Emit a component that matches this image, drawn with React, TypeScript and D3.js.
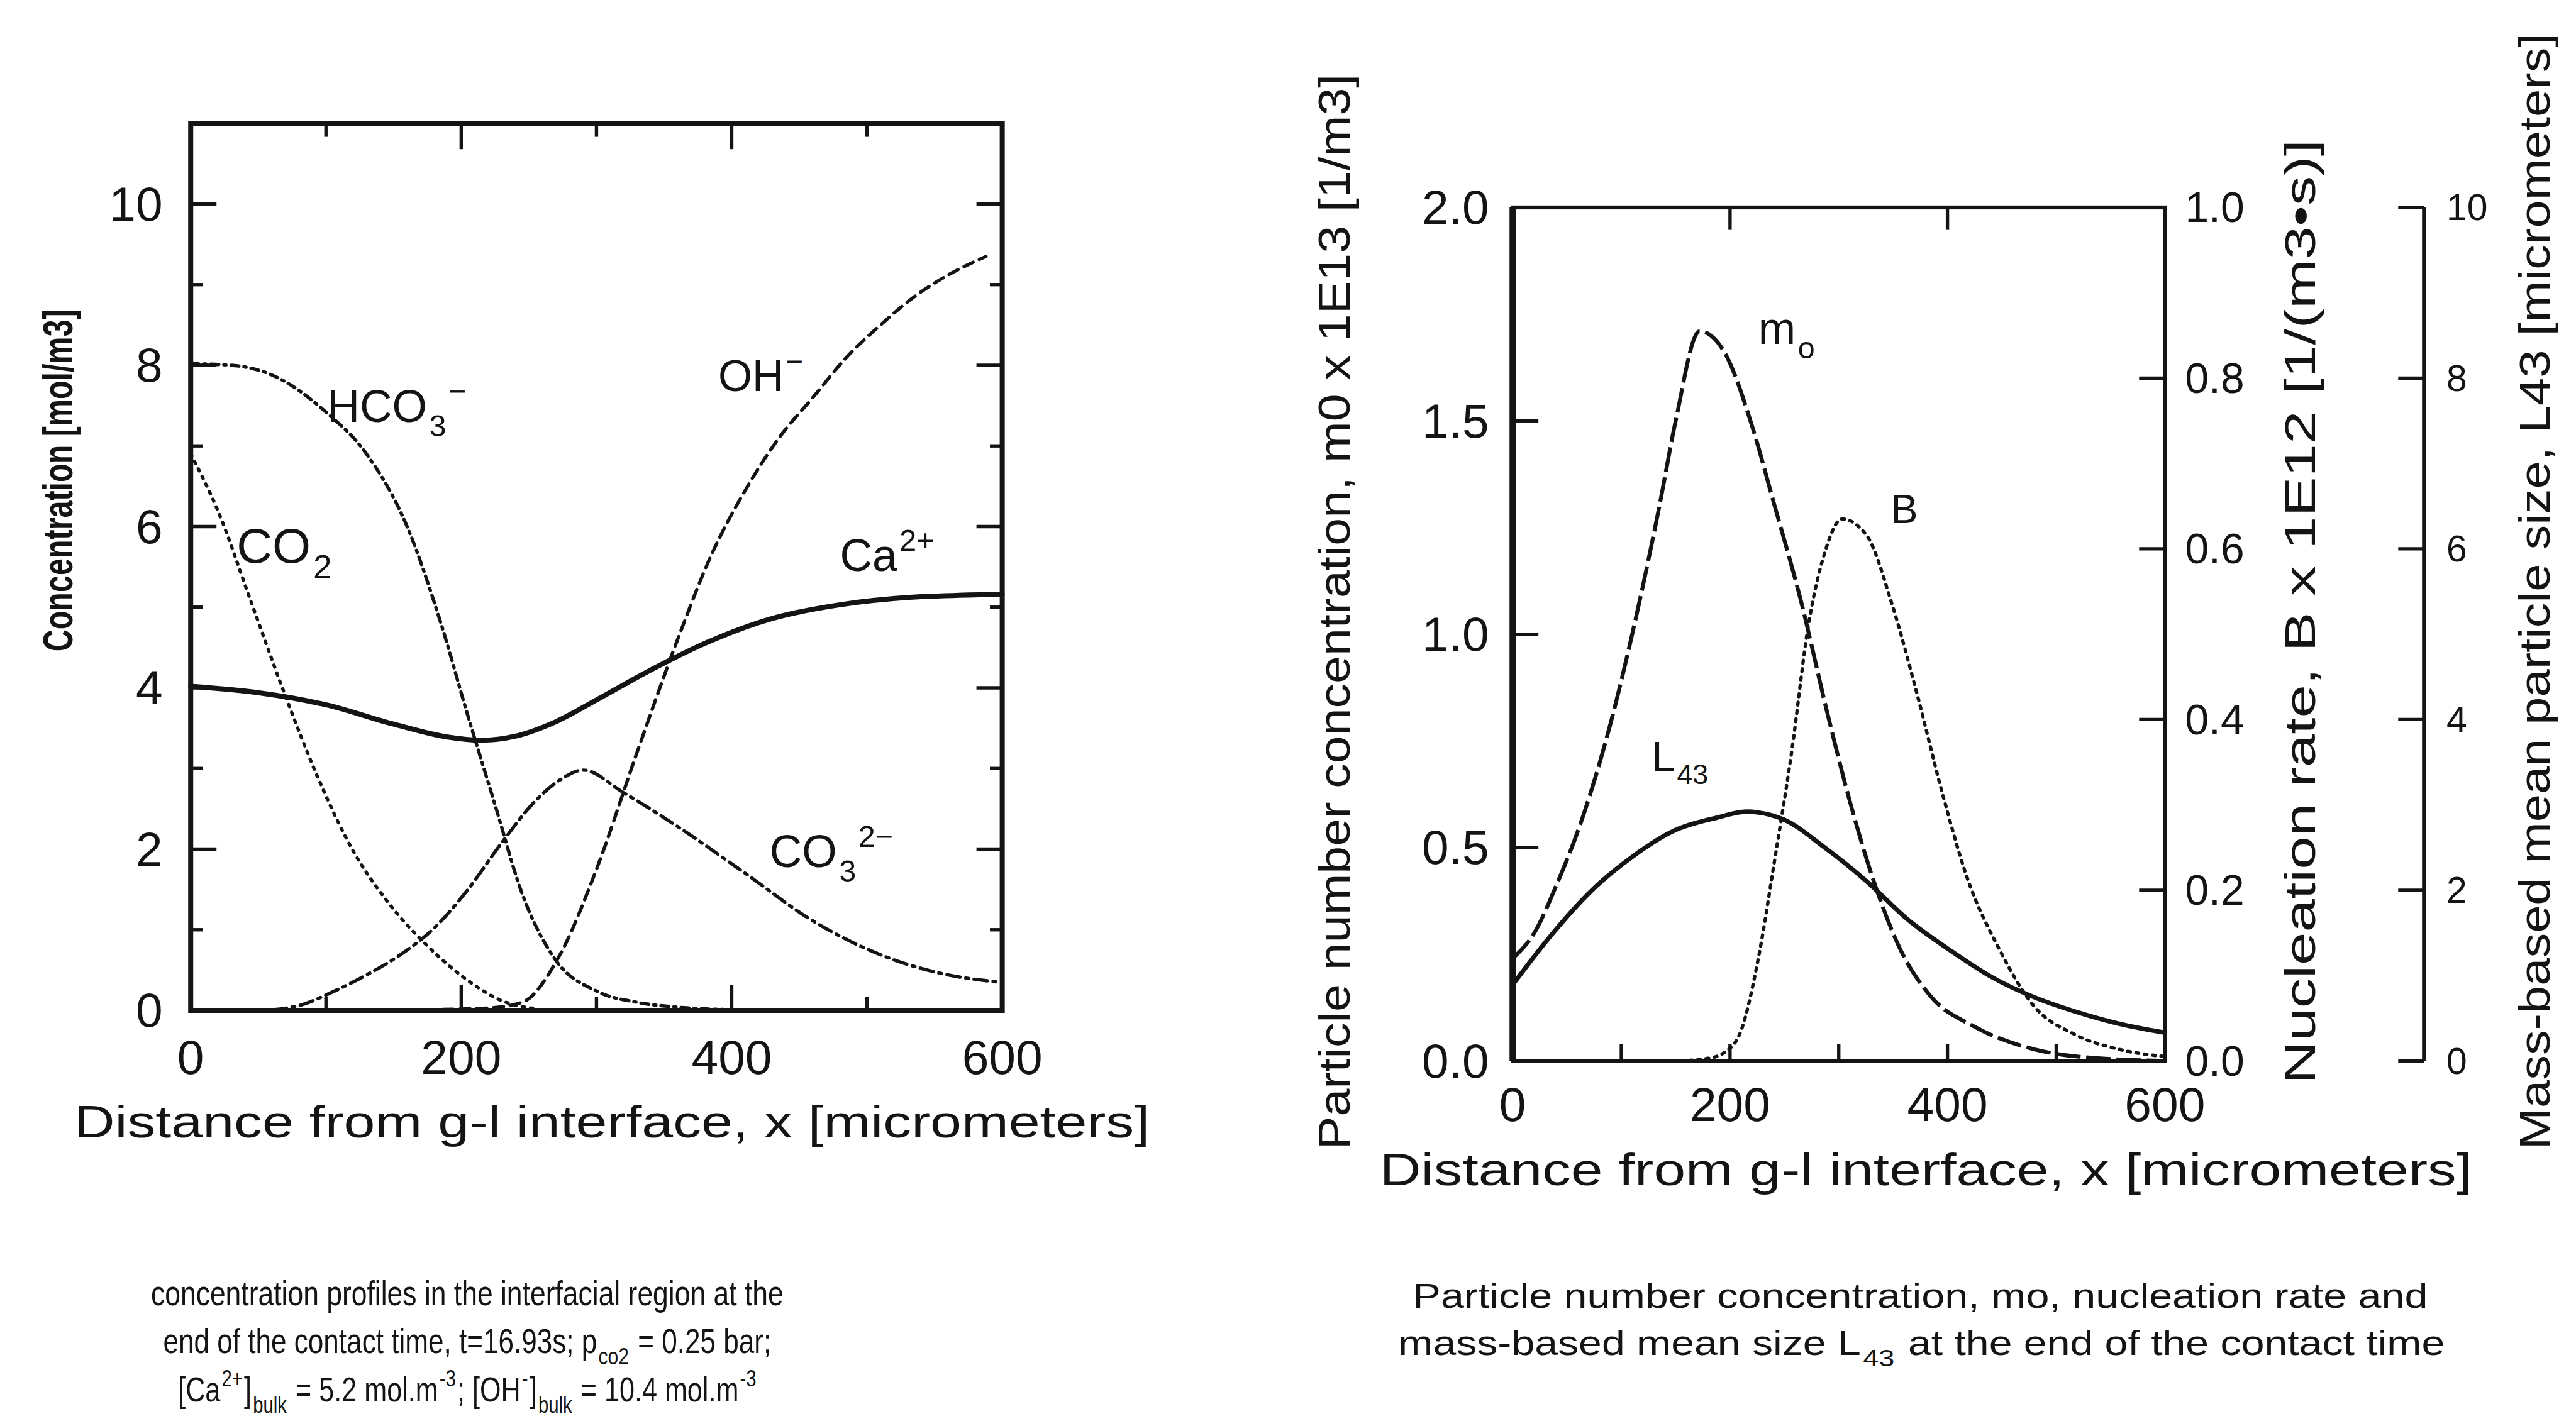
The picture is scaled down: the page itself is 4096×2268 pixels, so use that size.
import * as d3 from "d3";
import * as React from "react";

// overall scale: reference is 4593 wide, window is 4096
const S = 4096 / 4593;

// ---- left chart: concentration profiles [mol/m3] vs x [micrometers]
const caX = [0, 50, 100, 150, 190, 215, 240, 270, 300, 340, 380, 430, 480, 530, 600];
const caY = [4.02, 3.94, 3.79, 3.55, 3.39, 3.35, 3.4, 3.58, 3.85, 4.22, 4.55, 4.86, 5.03, 5.12, 5.16];

const hco3X = [0, 30, 60, 100, 130, 160, 185, 205, 225, 245, 270, 300, 330, 360, 395];
const hco3Y = [8.02, 8.0, 7.88, 7.42, 6.9, 6.0, 4.8, 3.65, 2.55, 1.45, 0.62, 0.24, 0.1, 0.04, 0.01];

const co2X = [0, 20, 45, 70, 95, 120, 145, 175, 205, 230, 255];
const co2Y = [6.9, 6.2, 5.05, 3.9, 2.85, 1.98, 1.36, 0.8, 0.37, 0.12, 0.02];

const ohX = [0, 100, 180, 220, 245, 273, 300, 330, 360, 385, 410, 435, 460, 485, 510, 535, 560, 588];
const ohY = [0, 0, 0.01, 0.03, 0.1, 0.69, 1.75, 3.2, 4.6, 5.65, 6.45, 7.1, 7.6, 8.1, 8.5, 8.85, 9.12, 9.35];

const co3X = [0, 50, 80, 105, 130, 155, 180, 205, 230, 255, 275, 290, 320, 360, 410, 460, 510, 560, 598];
const co3Y = [0, 0, 0.06, 0.23, 0.44, 0.69, 1.02, 1.5, 2.08, 2.6, 2.88, 2.98, 2.7, 2.28, 1.7, 1.11, 0.69, 0.44, 0.35];

// ---- right chart
// m0 x 1E13 [1/m3]
const m0X = [0, 20, 40, 65, 90, 110, 135, 150, 172, 195, 220, 240, 265, 290, 310, 335, 355, 385, 425, 480, 520, 600];
const m0Y = [0.24, 0.3, 0.41, 0.575, 0.79, 1.0, 1.3, 1.5, 1.71, 1.66, 1.49, 1.31, 1.08, 0.81, 0.61, 0.4, 0.27, 0.15, 0.08, 0.027, 0.01, 0.0];

// B x 1E12 [1/(m3 s)]
const bX = [0, 150, 180, 195, 210, 226, 241, 257, 272, 287, 303, 326, 349, 372, 395, 418, 448, 479, 517, 556, 600];
const bY = [0, 0, 0.003, 0.01, 0.035, 0.12, 0.235, 0.365, 0.51, 0.595, 0.635, 0.615, 0.535, 0.43, 0.315, 0.215, 0.13, 0.065, 0.031, 0.014, 0.005];

// L43 [micrometers]
const lX = [0, 34, 73, 111, 149, 188, 215, 249, 287, 326, 364, 402, 441, 479, 517, 556, 600];
const lY = [0.89, 1.45, 2.0, 2.4, 2.7, 2.85, 2.92, 2.83, 2.5, 2.1, 1.65, 1.3, 0.98, 0.75, 0.58, 0.44, 0.33];

const xTickLabels = [0, 200, 400, 600];
const concTickLabels = [0, 2, 4, 6, 8, 10];

const INK = "#141414";
const FONT = "'Liberation Sans', Arial, sans-serif";

type Part = [string, "n" | "sub" | "sup"];

function rich(parts: Part[], size: number) {
    let off = 0;
    let prev = "n";
    return parts.map(([t, k], i) => {
        const target = k === "sub" ? size * 0.32 : k === "sup" ? -size * 0.45 : 0;
        const dy = target - off;
        const dx = k !== prev ? size * 0.05 : 0;
        off = target;
        prev = k;
        return (
            <tspan key={i} dx={dx} dy={dy} fontSize={k === "n" ? size : size * 0.68}>
                {t}
            </tspan>
        );
    });
}

// text squeezed horizontally to a given width, like the condensed caption type
function FitText(props: { x: number; y: number; width: number; size: number; children: React.ReactNode }) {
    const ref = React.useRef<SVGTextElement>(null);
    const [k, setK] = React.useState(0.65);
    React.useLayoutEffect(() => {
        if (ref.current) {
            const w = ref.current.getBBox().width;
            if (w > 0) setK(props.width / w);
        }
    }, [props.width]);
    return (
        <g transform={`translate(${props.x},${props.y}) scale(${k},1)`}>
            <text ref={ref} textAnchor="middle" fontSize={props.size} fontFamily={FONT} fill={INK}>
                {props.children}
            </text>
        </g>
    );
}

function curve(xs: number[], ys: number[], sx: d3.ScaleLinear<number, number>, sy: d3.ScaleLinear<number, number>) {
    return d3.line<number>()
        .x((d, i) => sx(xs[i]))
        .y(d => sy(d))
        .curve(d3.curveMonotoneX)(ys) || "";
}

function LeftChart() {
    const x = d3.scaleLinear().domain([0, 600]).range([340, 1787]);
    const y = d3.scaleLinear().domain([0, 11]).range([1802, 220]);
    const [x0, x1] = x.range();
    const [y0, y1] = y.range();

    const series = [
        { xs: co2X, ys: co2Y, dash: "4 11", w: 6 },
        { xs: hco3X, ys: hco3Y, dash: "14 9 4 9", w: 6 },
        { xs: ohX, ys: ohY, dash: "18 12", w: 6 },
        { xs: co3X, ys: co3Y, dash: "24 10 5 10", w: 6 },
        { xs: caX, ys: caY, dash: "none", w: 9 },
    ];

    const labels: { x: number; v: number; parts: Part[]; size: number }[] = [
        { x: 101, v: 7.3, parts: [["HCO", "n"], ["3", "sub"], ["\u2212", "sup"]], size: 80 },
        { x: 390, v: 7.68, parts: [["OH", "n"], ["\u2212", "sup"]], size: 78 },
        { x: 34, v: 5.55, parts: [["CO", "n"], ["2", "sub"]], size: 88 },
        { x: 480, v: 5.45, parts: [["Ca", "n"], ["2+", "sup"]], size: 80 },
        { x: 428, v: 1.78, parts: [["CO", "n"], ["3", "sub"], ["2\u2212", "sup"]], size: 80 },
    ];

    return (
        <g>
            {series.map((s, i) => (
                <path key={i} d={curve(s.xs, s.ys, x, y)} fill="none" stroke={INK}
                    strokeWidth={s.w} strokeDasharray={s.dash} strokeLinecap="round" />
            ))}
            <rect x={x0} y={y1} width={x1 - x0} height={y0 - y1} fill="none" stroke={INK} strokeWidth={9} />
            {y.ticks(11).filter(v => v > 0 && v < 11).map(v => {
                const len = v % 2 === 0 ? 46 : 22;
                return (
                    <g key={v}>
                        <line x1={x0} x2={x0 + len} y1={y(v)} y2={y(v)} stroke={INK} strokeWidth={6} />
                        <line x1={x1} x2={x1 - len} y1={y(v)} y2={y(v)} stroke={INK} strokeWidth={6} />
                    </g>
                );
            })}
            {x.ticks(6).filter(v => v > 0 && v < 600).map(v => {
                const len = v % 200 === 0 ? 46 : 24;
                return (
                    <g key={v}>
                        <line x1={x(v)} x2={x(v)} y1={y0} y2={y0 - len} stroke={INK} strokeWidth={6} />
                        <line x1={x(v)} x2={x(v)} y1={y1} y2={y1 + len} stroke={INK} strokeWidth={6} />
                    </g>
                );
            })}
            {concTickLabels.map(v => (
                <text key={v} x={290} y={y(v)} textAnchor="end" dominantBaseline="central"
                    fontSize={86} fontFamily={FONT} fill={INK}>{v}</text>
            ))}
            {xTickLabels.map(v => (
                <text key={v} x={x(v)} y={1886} textAnchor="middle" dominantBaseline="central"
                    fontSize={86} fontFamily={FONT} fill={INK}>{v}</text>
            ))}
            {labels.map((l, i) => (
                <text key={i} x={x(l.x)} y={y(l.v)} fontSize={l.size} fontFamily={FONT} fill={INK}>
                    {rich(l.parts, l.size)}
                </text>
            ))}
            <text transform="translate(103,857) rotate(-90)" textAnchor="middle" dominantBaseline="central"
                fontSize={74} fontWeight="bold" fontFamily={FONT} fill={INK}
                textLength={610} lengthAdjust="spacingAndGlyphs">Concentration [mol/m3]</text>
            <text x={1091} y={2001} textAnchor="middle" dominantBaseline="central"
                fontSize={80} fontFamily={FONT} fill={INK}
                textLength={1918} lengthAdjust="spacingAndGlyphs">Distance from g-l interface, x [micrometers]</text>
            <FitText x={833} y={2328} width={1128} size={62}>
                concentration profiles in the interfacial region at the
            </FitText>
            <FitText x={833} y={2413} width={1084} size={62}>
                {rich([["end of the contact time, t=16.93s; p", "n"], ["co2", "sub"], [" = 0.25 bar;", "n"]], 62)}
            </FitText>
            <FitText x={833} y={2500} width={1031} size={62}>
                {rich([["[Ca", "n"], ["2+", "sup"], ["]", "n"], ["bulk", "sub"], [" = 5.2 mol.m", "n"], ["-3", "sup"],
                    ["; [OH", "n"], ["-", "sup"], ["]", "n"], ["bulk", "sub"], [" = 10.4 mol.m", "n"], ["-3", "sup"]], 62)}
            </FitText>
        </g>
    );
}

function RightChart() {
    const x = d3.scaleLinear().domain([0, 600]).range([2697, 3860]);
    const y = d3.scaleLinear().domain([0, 2]).range([1892, 370]);
    const yB = d3.scaleLinear().domain([0, 1]).range([1892, 370]);
    const yL = d3.scaleLinear().domain([0, 10]).range([1892, 370]);
    const [x0, x1] = x.range();
    const [y0, y1] = y.range();
    const axis3 = 4322;
    const f1 = d3.format(".1f");

    return (
        <g>
            <path d={curve(bX, bY, x, yB)} fill="none" stroke={INK} strokeWidth={6} strokeDasharray="5 10" strokeLinecap="round" />
            <path d={curve(m0X, m0Y, x, y)} fill="none" stroke={INK} strokeWidth={7} strokeDasharray="44 10" />
            <path d={curve(lX, lY, x, yL)} fill="none" stroke={INK} strokeWidth={8} />
            <rect x={x0} y={y1} width={x1 - x0} height={y0 - y1} fill="none" stroke={INK} strokeWidth={7} />
            <line x1={x0} x2={x0} y1={y1} y2={y0} stroke={INK} strokeWidth={11} />
            {y.ticks(4).filter(v => v > 0 && v < 2).map(v => (
                <line key={v} x1={x0} x2={x0 + 46} y1={y(v)} y2={y(v)} stroke={INK} strokeWidth={6} />
            ))}
            {yB.ticks(5).filter(v => v > 0 && v < 1).map(v => (
                <line key={v} x1={x1} x2={x1 - 46} y1={yB(v)} y2={yB(v)} stroke={INK} strokeWidth={6} />
            ))}
            {x.ticks(6).filter(v => v > 0 && v < 600).map(v => (
                <line key={v} x1={x(v)} x2={x(v)} y1={y0} y2={y0 - 30} stroke={INK} strokeWidth={6} />
            ))}
            {[200, 400].map(v => (
                <line key={v} x1={x(v)} x2={x(v)} y1={y1} y2={y1 + 40} stroke={INK} strokeWidth={6} />
            ))}
            <line x1={axis3} x2={axis3} y1={yL(10)} y2={yL(0)} stroke={INK} strokeWidth={7} />
            {yL.ticks(5).map(v => (
                <line key={v} x1={axis3} x2={axis3 - 46} y1={yL(v)} y2={yL(v)} stroke={INK} strokeWidth={6} />
            ))}
            {y.ticks(4).map(v => (
                <text key={v} x={2655} y={y(v)} textAnchor="end" dominantBaseline="central"
                    fontSize={86} fontFamily={FONT} fill={INK}>{f1(v)}</text>
            ))}
            {yB.ticks(5).map(v => (
                <text key={v} x={3896} y={yB(v)} dominantBaseline="central"
                    fontSize={76} fontFamily={FONT} fill={INK}>{f1(v)}</text>
            ))}
            {yL.ticks(5).map(v => (
                <text key={v} x={4362} y={yL(v)} dominantBaseline="central"
                    fontSize={66} fontFamily={FONT} fill={INK}>{v}</text>
            ))}
            {xTickLabels.map(v => (
                <text key={v} x={x(v)} y={1970} textAnchor="middle" dominantBaseline="central"
                    fontSize={86} fontFamily={FONT} fill={INK}>{v}</text>
            ))}
            <text x={x(226)} y={y(1.68)} fontSize={80} fontFamily={FONT} fill={INK}>{rich([["m", "n"], ["o", "sub"]], 80)}</text>
            <text x={x(348)} y={y(1.26)} fontSize={72} fontFamily={FONT} fill={INK}>B</text>
            <text x={x(128)} y={y(0.68)} fontSize={74} fontFamily={FONT} fill={INK}>{rich([["L", "n"], ["43", "sub"]], 74)}</text>

            <text transform="translate(2379,1091) rotate(-90)" textAnchor="middle" dominantBaseline="central"
                fontSize={78} fontFamily={FONT} fill={INK} textLength={1918} lengthAdjust="spacingAndGlyphs">
                Particle number concentration, m0 x 1E13 [1/m3]
            </text>
            <text transform="translate(4101,1091) rotate(-90)" textAnchor="middle" dominantBaseline="central"
                fontSize={76} fontFamily={FONT} fill={INK} textLength={1684} lengthAdjust="spacingAndGlyphs">
                Nucleation rate, B x 1E12 [1/(m3•s)]
            </text>
            <text transform="translate(4520,1055) rotate(-90)" textAnchor="middle" dominantBaseline="central"
                fontSize={76} fontFamily={FONT} fill={INK} textLength={1990} lengthAdjust="spacingAndGlyphs">
                Mass-based mean particle size, L43 [micrometers]
            </text>
            <text x={3434} y={2086} textAnchor="middle" dominantBaseline="central"
                fontSize={80} fontFamily={FONT} fill={INK}
                textLength={1948} lengthAdjust="spacingAndGlyphs">Distance from g-l interface, x [micrometers]</text>
            <FitText x={3424} y={2332} width={1810} size={62}>
                Particle number concentration, mo, nucleation rate and
            </FitText>
            <FitText x={3426} y={2417} width={1866} size={62}>
                {rich([["mass-based mean size L", "n"], ["43", "sub"], [" at the end of the contact time", "n"]], 62)}
            </FitText>
        </g>
    );
}

export default function App(): JSX.Element {
    return (
        <svg width={4096} height={2268} style={{ position: "absolute", left: 0, top: 0, background: "#fff" }}>
            <rect width={4096} height={2268} fill="#fff" />
            <g transform={`scale(${S})`}>
                <LeftChart />
                <RightChart />
            </g>
        </svg>
    );
}
